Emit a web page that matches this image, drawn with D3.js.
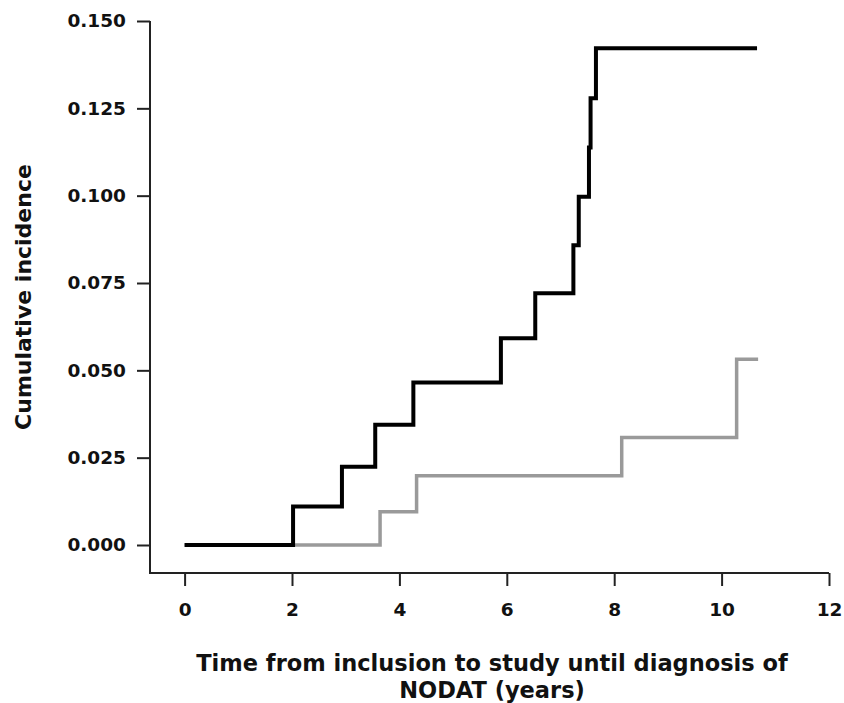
<!DOCTYPE html>
<html>
<head>
<meta charset="utf-8">
<script src="https://cdn.jsdelivr.net/npm/d3@7"></script>
<style>
  body { margin: 0; background: #fff; }
  svg text { font-family: "DejaVu Sans", sans-serif; font-weight: bold; fill: #111; }
</style>
</head>
<body>
<div id="chart"></div>
<script>
// step points (time in years, cumulative incidence)
const blackTime = [0, 2.02, 2.93, 3.55, 4.26, 5.89, 6.53, 7.24, 7.34, 7.53, 7.56, 7.66, 10.66]
const blackInc = [0, 0.011, 0.0224, 0.0344, 0.0465, 0.0592, 0.0721, 0.0858, 0.0997, 0.1138, 0.1279, 0.1422, 0.1422]

const grayTime = [0, 3.64, 4.32, 8.14, 10.28, 10.68]
const grayInc = [0, 0.0095, 0.0198, 0.0308, 0.0532, 0.0532]

const xTicks = [0, 2, 4, 6, 8, 10, 12]
const yTicks = [0, 0.025, 0.05, 0.075, 0.1, 0.125, 0.15]

const width = 844
const height = 703

const svg = d3.select('#chart').append('svg')
    .attr('width', width).attr('height', height)

const x = d3.scaleLinear().domain([0, 12]).range([184.6, 829])
const y = d3.scaleLinear().domain([0, 0.15]).range([545, 21])

const axisLeftX = 150
const axisBottomY = 573

// y axis
const yAxis = svg.append('g')
    .attr('transform', `translate(${axisLeftX},0)`)
    .call(d3.axisLeft(y).tickValues(yTicks).tickFormat(d3.format('.3f'))
        .tickSize(13).tickSizeOuter(0).tickPadding(11))
yAxis.select('.domain').remove()
yAxis.selectAll('.tick line').attr('stroke', '#222').attr('stroke-width', 2)
yAxis.selectAll('.tick text').attr('font-size', 18.5).attr('fill', '#111')

// x axis
const xAxis = svg.append('g')
    .attr('transform', `translate(0,${axisBottomY})`)
    .call(d3.axisBottom(x).tickValues(xTicks).tickFormat(d3.format('d'))
        .tickSize(13).tickSizeOuter(0).tickPadding(17))
xAxis.select('.domain').remove()
xAxis.selectAll('.tick line').attr('stroke', '#222').attr('stroke-width', 2)
xAxis.selectAll('.tick text').attr('font-size', 18.5).attr('fill', '#111')

// axis lines (L shaped frame)
svg.append('path')
    .attr('d', `M${axisLeftX},${y(0.15)}V${axisBottomY}H${x(12)}`)
    .attr('fill', 'none').attr('stroke', '#222').attr('stroke-width', 2)

const line = d3.line()
    .x(d => x(d[0]))
    .y(d => y(d[1]))
    .curve(d3.curveStepAfter)

svg.append('path')
    .datum(d3.zip(grayTime, grayInc))
    .attr('d', line)
    .attr('fill', 'none')
    .attr('stroke', '#9a9a9a')
    .attr('stroke-width', 3.5)

svg.append('path')
    .datum(d3.zip(blackTime, blackInc))
    .attr('d', line)
    .attr('fill', 'none')
    .attr('stroke', '#000')
    .attr('stroke-width', 4)

// titles
svg.append('text')
    .attr('x', 492).attr('y', 671)
    .attr('text-anchor', 'middle').attr('font-size', 22.5)
    .text('Time from inclusion to study until diagnosis of')
svg.append('text')
    .attr('x', 492).attr('y', 698)
    .attr('text-anchor', 'middle').attr('font-size', 22.5)
    .text('NODAT (years)')

svg.append('text')
    .attr('transform', 'translate(31,297) rotate(-90)')
    .attr('text-anchor', 'middle').attr('font-size', 22)
    .text('Cumulative incidence')
</script>
</body>
</html>
